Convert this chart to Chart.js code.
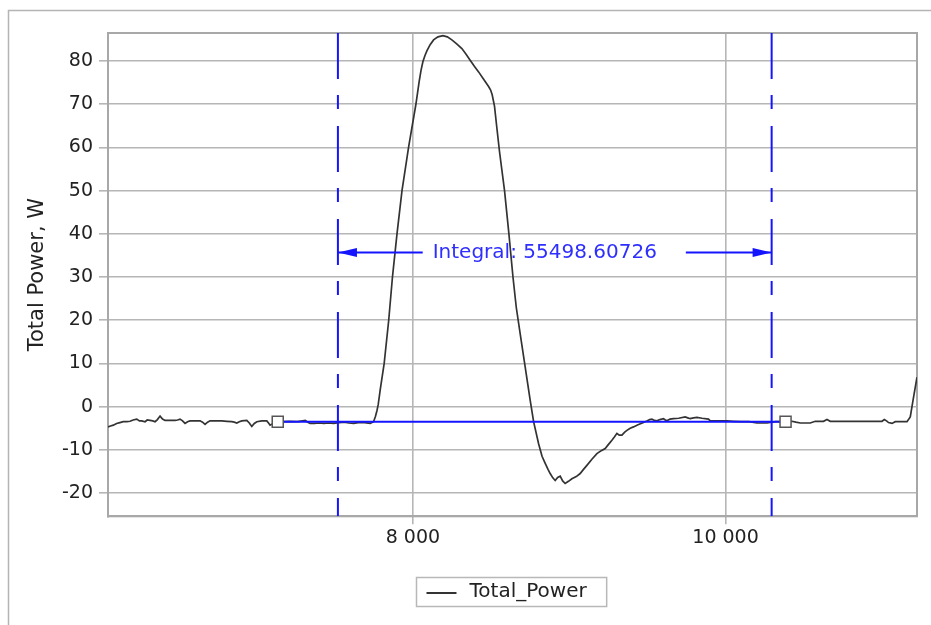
<!DOCTYPE html>
<html><head><meta charset="utf-8">
<script src="https://cdn.jsdelivr.net/npm/chart.js@4/dist/chart.umd.min.js"></script>
<style>html,body{margin:0;padding:0;background:#fff;} canvas{display:block;}</style>
</head><body>
<canvas id="c" width="931" height="625"></canvas>
<script>
// ---- data ----
const seriesName = 'Total_Power';
const timeX = [6049,6065,6083,6104,6125,6147,6170,6190,6210,6233,6250,6265,6286,6300,6318,6335,6350,6365,6382,6398,6414,6445,6478,6494,6510,6526,6542,6558,6574,6606,6638,6654,6670,6686,6702,6740,6777,6810,6841,6857,6873,6889,6905,6937,6953,6969,6985,7001,7033,7065,7076,7086,7100,7115,7135,7170,7210,7260,7295,7311,7327,7343,7370,7396,7430,7460,7492,7530,7560,7590,7620,7650,7690,7727,7748,7760,7770,7778,7791,7816,7845,7869,7898,7930,7972,8019,8040,8052,8064,8077,8090,8110,8132,8160,8192,8220,8249,8280,8313,8340,8366,8393,8420,8450,8484,8497,8507,8522,8537,8554,8586,8614,8640,8661,8686,8718,8750,8772,8804,8826,8847,8865,8878,8895,8910,8926,8942,8958,8974,8995,9017,9045,9070,9090,9113,9145,9177,9205,9230,9250,9273,9290,9305,9320,9337,9355,9369,9390,9411,9440,9475,9500,9515,9529,9545,9561,9580,9603,9615,9625,9645,9667,9700,9742,9758,9774,9795,9817,9850,9891,9902,9950,10009,10050,10100,10150,10201,10235,10265,10320,10384,10425,10450,10479,10542,10574,10627,10649,10670,10750,10850,10950,11001,11016,11030,11043,11065,11086,11161,11182,11203,11225];
const powerW = [-4.7,-4.5,-4.3,-3.9,-3.7,-3.5,-3.5,-3.4,-3.1,-2.9,-3.3,-3.3,-3.5,-3.1,-3.2,-3.3,-3.5,-3.0,-2.2,-2.9,-3.2,-3.2,-3.2,-3.1,-2.9,-3.3,-3.9,-3.5,-3.3,-3.3,-3.3,-3.6,-4.1,-3.6,-3.3,-3.3,-3.3,-3.4,-3.5,-3.6,-3.8,-3.5,-3.3,-3.2,-3.8,-4.6,-3.9,-3.5,-3.3,-3.3,-3.8,-4.3,-4.0,-3.6,-3.5,-3.5,-3.4,-3.5,-3.3,-3.2,-3.6,-3.9,-3.9,-3.8,-3.9,-3.8,-3.9,-3.7,-3.6,-3.8,-3.9,-3.7,-3.7,-3.9,-3.5,-2.3,-0.9,0.5,4.0,10,20,30,40,50,60,70,75.3,77.9,79.9,81.3,82.4,83.8,84.9,85.6,85.9,85.6,84.9,84.0,82.9,81.6,80.2,78.8,77.5,75.9,74.1,73.3,72.2,69.5,64.5,59,50,40,30,23,16.9,9.2,1.5,-3.5,-8.6,-11.5,-13.2,-14.6,-15.5,-16.5,-17.1,-16.4,-16.1,-17.2,-17.8,-17.3,-16.7,-16.2,-15.5,-14.6,-13.6,-12.2,-10.9,-10.2,-9.7,-8.8,-7.8,-7.0,-6.2,-6.6,-6.6,-5.9,-5.5,-5.0,-4.7,-4.2,-3.7,-3.3,-3.0,-2.9,-3.2,-3.3,-3.0,-2.8,-3.1,-3.3,-2.9,-2.8,-2.7,-2.4,-2.6,-2.8,-2.6,-2.5,-2.7,-2.9,-3.3,-3.3,-3.3,-3.4,-3.5,-3.5,-3.8,-3.8,-3.8,-3.5,-3.5,-3.4,-3.6,-3.8,-3.8,-3.4,-3.4,-3.0,-3.4,-3.4,-3.4,-3.4,-3.4,-3.0,-3.3,-3.7,-3.9,-3.5,-3.5,-2.4,2.2,6.8];
const xTicks = [8000, 10000];
const yTicks = [-20, -10, 0, 10, 20, 30, 40, 50, 60, 70, 80];
const xRange = [6049, 11225];
const yRange = [-25.4, 86.5];
const cursorX = [7520, 10295];
const baselineX = [7135, 10384];
const baselineY = -3.5;
const integralY = 35.7;
const integralLabel = 'Integral: 55498.60726';
const yAxisTitle = 'Total Power, W';

// ---- styles ----
const FONT = 'DejaVu Sans';
const GRID = '#b6b6b6';
const BLUE = '#1414ff';
const TEXT = '#222222';

function fmtThousands(v){ return String(v).replace(/\B(?=(\d{3})+(?!\d))/g, ' '); }

const curve = timeX.map((x,i)=>({x:x, y:powerW[i]}));

const framePlugin = {
  id:'frame',
  beforeDraw(chart){
    const ctx = chart.ctx;
    ctx.save();
    ctx.fillStyle = '#fff';
    ctx.fillRect(0,0,chart.width,chart.height);
    ctx.strokeStyle = '#b4b4b4';
    ctx.lineWidth = 1.5;
    ctx.beginPath();
    ctx.moveTo(8.5, chart.height + 2);
    ctx.lineTo(8.5, 10.5);
    ctx.lineTo(chart.width + 2, 10.5);
    ctx.stroke();
    ctx.restore();
  },
  beforeDatasetsDraw(chart){
    const a = chart.chartArea, ctx = chart.ctx;
    ctx.save();
    ctx.strokeStyle = '#a8a8a8';
    ctx.lineWidth = 2;
    ctx.strokeRect(a.left, a.top, a.right - a.left, a.bottom - a.top);
    ctx.restore();
  }
};

const integralPlugin = {
  id:'integral',
  afterDatasetsDraw(chart){
    const ctx = chart.ctx, xs = chart.scales.x, ys = chart.scales.y;
    const xl = xs.getPixelForValue(cursorX[0]);
    const xr = xs.getPixelForValue(cursorX[1]);
    const y = Math.round(ys.getPixelForValue(integralY)) + 0.5;
    ctx.save();
    ctx.font = '20px "' + FONT + '"';
    const tw = ctx.measureText(integralLabel).width;
    const mid = (xl + xr) / 2;
    const tl = mid - tw / 2 - 10;
    const tr = tl + tw;
    ctx.fillStyle = '#2e2eff';
    ctx.textBaseline = 'middle';
    ctx.textAlign = 'left';
    ctx.fillText(integralLabel, tl, y);
    ctx.strokeStyle = BLUE;
    ctx.fillStyle = BLUE;
    ctx.lineWidth = 2;
    ctx.beginPath();
    ctx.moveTo(xl, y); ctx.lineTo(tl - 10, y);
    ctx.moveTo(tr + 29, y); ctx.lineTo(xr, y);
    ctx.stroke();
    const L = 19, H = 4.5;
    ctx.beginPath();
    ctx.moveTo(xl, y); ctx.lineTo(xl + L, y - H); ctx.lineTo(xl + L, y + H); ctx.closePath(); ctx.fill();
    ctx.beginPath();
    ctx.moveTo(xr, y); ctx.lineTo(xr - L, y - H); ctx.lineTo(xr - L, y + H); ctx.closePath(); ctx.fill();
    ctx.restore();
  }
};

const legendPlugin = {
  id:'boxLegend',
  afterDraw(chart){
    const ctx = chart.ctx, a = chart.chartArea;
    const ds = chart.data.datasets.find(d => d.label === seriesName);
    ctx.save();
    ctx.font = '20px "' + FONT + '"';
    const tw = ctx.measureText(ds.label).width;
    const w = 10 + 30 + 13 + tw + 20;
    const h = 29;
    const cx = (a.left + a.right) / 2 - 1;
    const left = Math.round(cx - w / 2) + 0.5;
    const top = Math.round(a.bottom + 60.5) + 0.5;
    ctx.strokeStyle = '#b8b8b8';
    ctx.lineWidth = 1.5;
    ctx.strokeRect(left, top, w, h);
    const ym = top + h / 2 + 1;
    ctx.strokeStyle = ds.borderColor;
    ctx.lineWidth = 2;
    ctx.beginPath(); ctx.moveTo(left + 10, ym); ctx.lineTo(left + 40, ym); ctx.stroke();
    ctx.fillStyle = TEXT;
    ctx.textBaseline = 'middle';
    ctx.fillText(ds.label, left + 53, ym - 1);
    ctx.restore();
  }
};

new Chart(document.getElementById('c'), {
  type: 'line',
  data: {
    datasets: [
      { label:'markers', data: baselineX.map(x=>({x:x, y:baselineY})), showLine:false,
        pointStyle:'rect', pointRadius:7.8, pointBackgroundColor:'#ffffff', pointBorderColor:'#555555',
        pointBorderWidth:1.5, order:0 },
      { label:'cursorL', data:[{x:cursorX[0], y:yRange[1]},{x:cursorX[0], y:yRange[0]}],
        borderColor:BLUE, borderWidth:2, borderDash:[46,16,14,17], pointRadius:0, order:1 },
      { label:'cursorR', data:[{x:cursorX[1], y:yRange[1]},{x:cursorX[1], y:yRange[0]}],
        borderColor:BLUE, borderWidth:2, borderDash:[46,16,14,17], pointRadius:0, order:1 },
      { label:'baseline', data: baselineX.map(x=>({x:x, y:baselineY})),
        borderColor:BLUE, borderWidth:2, pointRadius:0, order:2 },
      { label:seriesName, data: curve, borderColor:'#333333', borderWidth:1.7,
        pointRadius:0, tension:0, order:3 }
    ]
  },
  options: {
    responsive:false,
    animation:false,
    devicePixelRatio:1,
    layout:{ padding:{ left:0, top:33, right:14, bottom:68.7 } },
    plugins:{ legend:{display:false}, tooltip:{enabled:false}, title:{display:false} },
    scales:{
      x:{
        type:'linear', min:xRange[0], max:xRange[1],
        afterBuildTicks: s => { s.ticks = xTicks.map(v=>({value:v})); },
        afterFit: s => { s.height = 40; },
        grid:{ color:GRID, lineWidth:1.6, tickLength:8, tickColor:GRID },
        border:{ display:true, color:'#a8a8a8', width:2 },
        ticks:{ font:{family:FONT, size:19}, color:TEXT, padding:2, maxRotation:0, autoSkip:false,
                callback: v => fmtThousands(v) }
      },
      y:{
        type:'linear', min:yRange[0], max:yRange[1],
        afterBuildTicks: s => { s.ticks = yTicks.map(v=>({value:v})); },
        afterFit: s => { s.width = 108; },
        grid:{ color:GRID, lineWidth:1.6, tickLength:9, tickColor:GRID },
        border:{ display:true, color:'#a8a8a8', width:2 },
        ticks:{ font:{family:FONT, size:19}, color:TEXT, padding:6, autoSkip:false,
                callback: v => String(v) },
        title:{ display:true, text:yAxisTitle, color:TEXT, font:{family:FONT, size:21},
                padding:{top:25, bottom:0} }
      }
    }
  },
  plugins:[framePlugin, integralPlugin, legendPlugin]
});
</script>
</body></html>
